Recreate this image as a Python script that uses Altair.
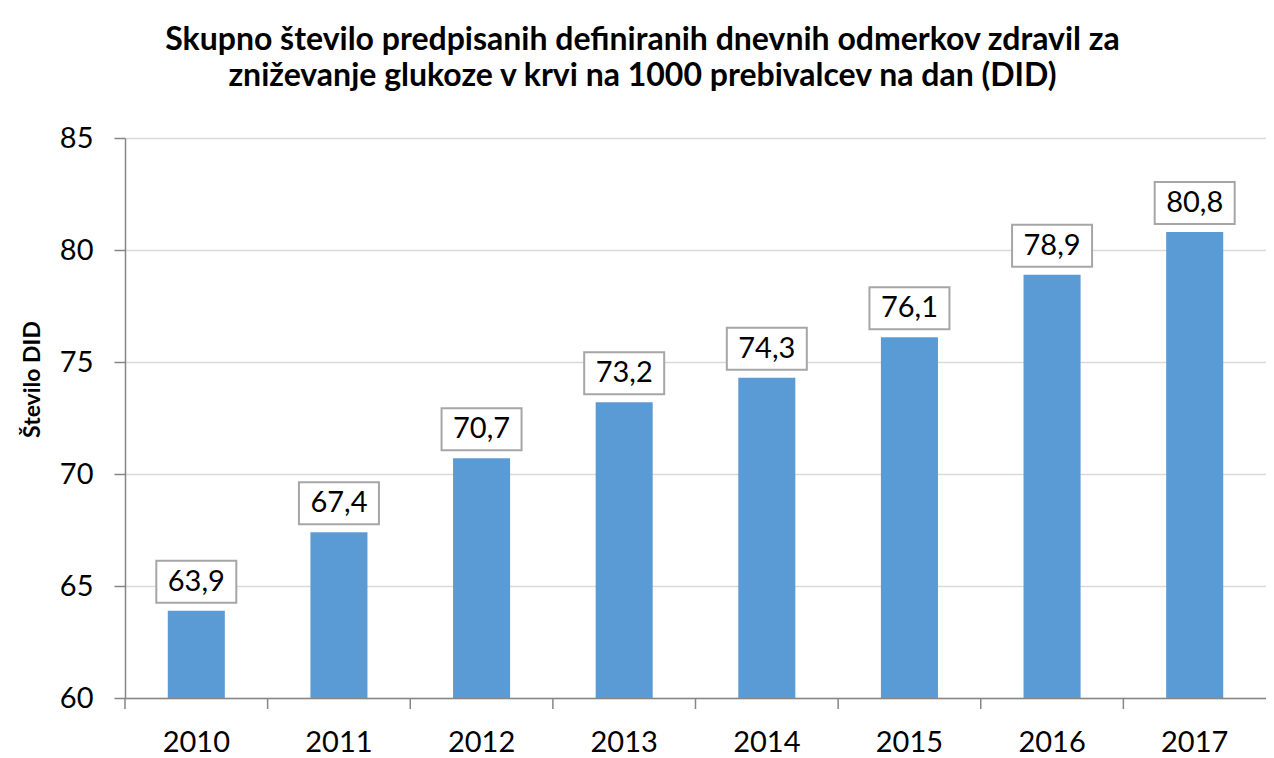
import altair as alt
import pandas as pd

years = ["2010", "2011", "2012", "2013", "2014", "2015", "2016", "2017"]
values = [63.9, 67.4, 70.7, 73.2, 74.3, 76.1, 78.9, 80.8]
y_ticks = [60, 65, 70, 75, 80, 85]
title_lines = [
    "Skupno število predpisanih definiranih dnevnih odmerkov zdravil za",
    "zniževanje glukoze v krvi na 1000 prebivalcev na dan (DID)",
]
y_title = "Število DID"

df = pd.DataFrame({"year": years, "value": values})

FONT = "Lato"
W, H = 1141, 560
AXIS_COL = "#868686"

x = alt.X("year:N", sort=years,
          scale=alt.Scale(paddingInner=0.6, paddingOuter=0.3),
          axis=alt.Axis(title=None, ticks=False, labelAngle=0, labelFont=FONT,
                        labelFontSize=29, labelColor="#000000", labelPadding=30,
                        labelBaseline="top", labelOverlap=False, labelBound=False,
                        domainColor=AXIS_COL, domainWidth=1.5, grid=False))
y = alt.Y("value:Q",
          scale=alt.Scale(domain=[60, 85], nice=False, zero=False),
          axis=alt.Axis(title=y_title, values=y_ticks, tickSize=11, tickColor=AXIS_COL,
                        domainColor=AXIS_COL, domainWidth=1.5, tickWidth=1.5,
                        labelFont=FONT, labelFontSize=29, labelColor="#000000",
                        labelPadding=21, gridColor="#D9D9D9", gridWidth=1.5,
                        titleFont=FONT, titleFontSize=23, titleFontWeight="bold",
                        titleColor="#000000", titleAngle=-90, titleX=-93, titleY=241,
                        titleAlign="center", titleBaseline="middle"))

base = alt.Chart(df)

bars = base.mark_bar(color="#5B9BD5").encode(x=x, y=y, y2=alt.datum(60))

ticks = base.mark_rule(color=AXIS_COL, strokeWidth=1.5, xOffset=-W / 16).encode(
    x=alt.X("year:N", sort=years),
    y=alt.value(H), y2=alt.value(H + 11))

box_shape = "M-1,-0.525 L1,-0.525 L1,0.525 L-1,0.525 Z"
boxes = base.mark_point(shape=box_shape, size=6400, filled=False, fill="white",
                        fillOpacity=1, stroke="#A6A6A6", strokeWidth=2,
                        opacity=1, yOffset=-29).encode(
    x=alt.X("year:N", sort=years), y=alt.Y("value:Q"))

labels = base.transform_calculate(
    lab="replace(format(datum.value, '.1f'), '.', ',')"
).mark_text(font=FONT, fontSize=29, color="#000000", baseline="middle",
            align="center", dy=-29).encode(
    x=alt.X("year:N", sort=years), y=alt.Y("value:Q"), text="lab:N")

chart = alt.layer(bars, ticks, boxes, labels).properties(
    width=W, height=H,
    autosize=alt.AutoSizeParams(type="none"),
    padding={"left": 117, "top": 130, "right": 0, "bottom": 60},
    title=alt.TitleParams(text=title_lines, font=FONT, fontSize=32, fontWeight="bold",
                          color="#000000", anchor="middle", dx=-53, offset=31,
                          lineHeight=36),
).configure_view(stroke=None)

chart.save("out.html", embed_options={"renderer": "svg", "actions": False})
